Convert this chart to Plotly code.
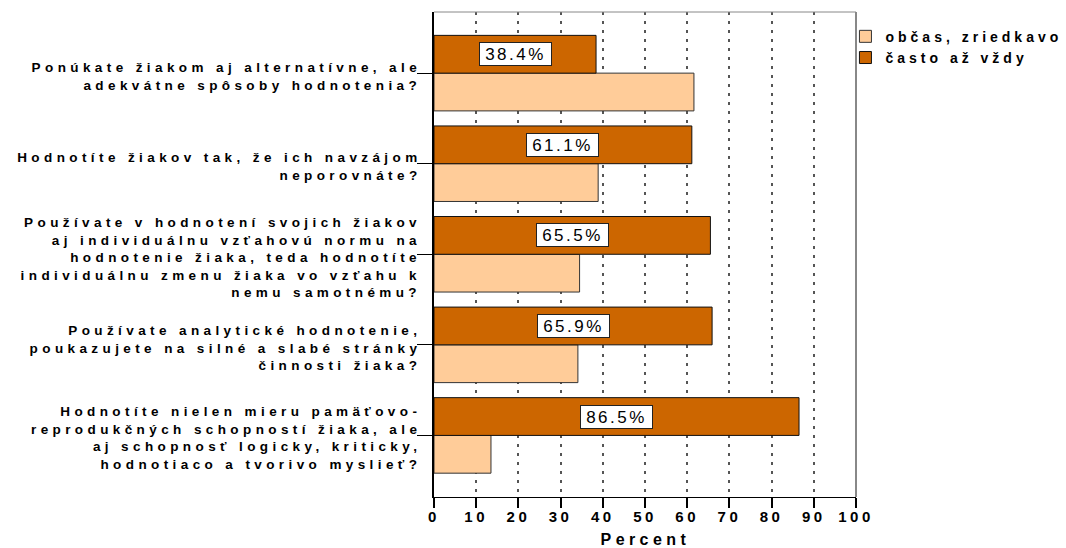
import plotly.graph_objects as go

# Survey items (top to bottom), line breaks where the labels wrap
questions = [
    "Ponúkate žiakom aj alternatívne, ale<br>adekvátne spôsoby hodnotenia?",
    "Hodnotíte žiakov tak, že ich navzájom<br>neporovnáte?",
    "Používate v hodnotení svojich žiakov<br>aj individuálnu vzťahovú normu na<br>hodnotenie žiaka, teda hodnotíte<br>individuálnu zmenu žiaka vo vzťahu k<br>nemu samotnému?",
    "Používate analytické hodnotenie,<br>poukazujete na silné a slabé stránky<br>činnosti žiaka?",
    "Hodnotíte nielen mieru pamäťovo-<br>reprodukčných schopností žiaka, ale<br>aj schopnosť logicky, kriticky,<br>hodnotiaco a tvorivo myslieť?",
]
often = [38.4, 61.1, 65.5, 65.9, 86.5]          # často až vždy
sometimes = [61.6, 38.9, 34.5, 34.1, 13.5]      # občas, zriedkavo
series_names = ["občas, zriedkavo", "často až vždy"]
x_ticks = list(range(0, 101, 10))
x_title = "Percent"

FONT = "Liberation Sans, Arial, sans-serif"
DARK = "#CC6600"
LIGHT = "#FFCC99"
BAR_W = 0.417
pos = list(range(len(questions)))

fig = go.Figure()
fig.add_trace(go.Bar(
    name=series_names[0], x=sometimes, y=pos, orientation="h",
    width=BAR_W, offset=0,
    marker=dict(color=LIGHT, line=dict(color="#333333", width=1)),
    hoverinfo="x+name",
))
fig.add_trace(go.Bar(
    name=series_names[1], x=often, y=pos, orientation="h",
    width=BAR_W, offset=-BAR_W,
    marker=dict(color=DARK, line=dict(color="#111111", width=1)),
    hoverinfo="x+name",
))

annotations = []
# Category labels, right-aligned against the y-axis ticks
for i, q in enumerate(questions):
    annotations.append(dict(
        text=q, xref="paper", x=0, xanchor="right", xshift=-10,
        yref="y", y=i, yanchor="middle", yshift=-3,
        align="right", showarrow=False,
        font=dict(family=FONT, size=13.5, color="#000000", weight="bold"),
    ))

# Value boxes on the "často až vždy" bars
for i, v in enumerate(often):
    annotations.append(dict(
        text=f"{v:.1f}%", x=v / 2, y=i - BAR_W / 2, xref="x", yref="y",
        showarrow=False, align="center", width=69, height=20,
        bgcolor="#FFFFFF", bordercolor="#222222", borderwidth=1, borderpad=1,
        font=dict(family=FONT, size=17, color="#000000"),
    ))

# Axis title under the tick labels
annotations.append(dict(
    text=x_title, xref="paper", x=0.5, xanchor="center",
    yref="paper", y=0, yanchor="middle", yshift=-42,
    showarrow=False,
    font=dict(family=FONT, size=16, color="#000000", weight="bold"),
))

fig.update_layout(
    width=1066, height=548,
    margin=dict(l=434, r=210, t=12, b=51),
    paper_bgcolor="#FFFFFF", plot_bgcolor="#FFFFFF",
    barmode="overlay",
    showlegend=True,
    legend=dict(
        x=0.975, xanchor="left", y=0.982, yanchor="top",
        bgcolor="rgba(0,0,0,0)", itemwidth=30, tracegroupgap=0,
        font=dict(family=FONT, size=14, color="#000000", weight="bold"),
    ),
    xaxis=dict(
        range=[0, 100], tickvals=x_ticks, ticktext=[str(t) for t in x_ticks],
        showgrid=True, gridcolor="#555555", gridwidth=2, griddash="3px,6px",
        zeroline=False, showline=True, linecolor="#000000", linewidth=1,
        ticks="outside", ticklen=10, tickwidth=2, tickcolor="#000000",
        ticklabelstandoff=-4,
        tickfont=dict(family=FONT, size=15, color="#000000", weight="bold"),
        fixedrange=True,
    ),
    yaxis=dict(
        range=[4.68, -0.675], tickvals=pos, showticklabels=False,
        showgrid=False, zeroline=False, showline=True,
        linecolor="#000000", linewidth=2,
        ticks="outside", ticklen=15, tickwidth=1, tickcolor="#000000",
        fixedrange=True,
    ),
    shapes=[
        dict(type="line", xref="paper", yref="paper", x0=0, x1=1, y0=1, y1=1,
             line=dict(color="#888888", width=1), layer="above"),
        dict(type="line", xref="paper", yref="paper", x0=1, x1=1, y0=0, y1=1,
             line=dict(color="#888888", width=2), layer="above"),
    ],
    annotations=annotations,
)

# Wide letter spacing for the chart's text
SPACING_JS = """
var gd = document.getElementById('{plot_id}');
function spread(sel, px) {
  gd.querySelectorAll(sel).forEach(function (t) { t.style.letterSpacing = px; });
}
spread('.xtick text', '3.5px');
spread('.legendtext', '4px');
gd.querySelectorAll('.legend [clip-path]').forEach(function (e) {
  e.removeAttribute('clip-path');
});
gd.querySelectorAll('.annotation-text').forEach(function (t) {
  t.style.letterSpacing = /%$/.test(t.textContent) ? '2.5px' : '4.4px';
});
"""

fig.write_html("out.html", post_script=SPACING_JS, config={"displayModeBar": False})
